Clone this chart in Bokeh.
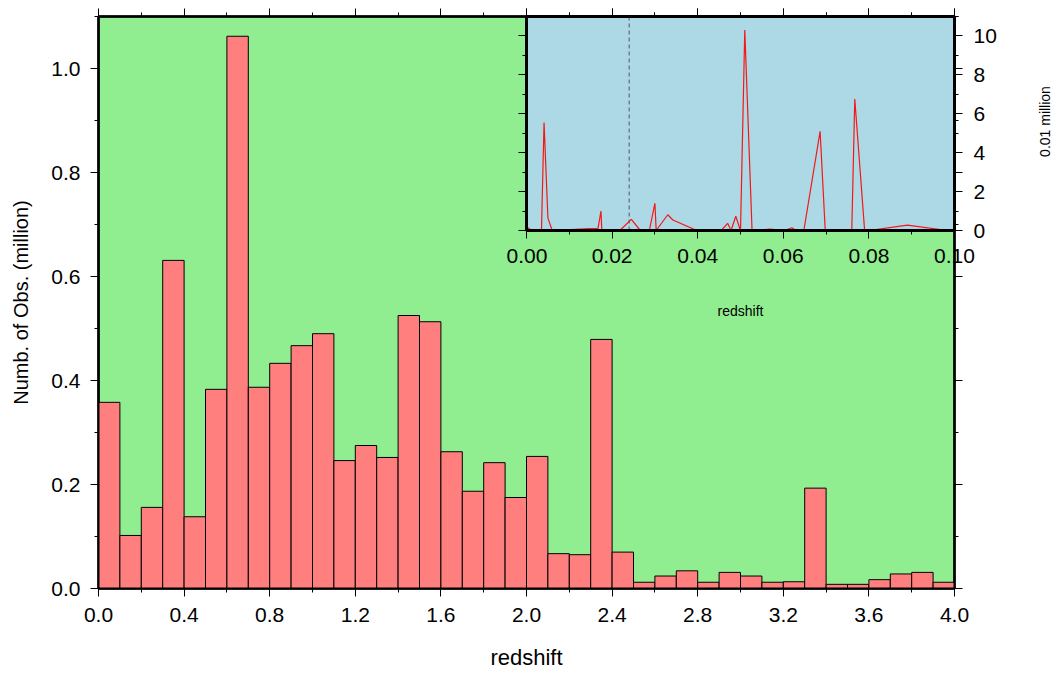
import math
from bokeh.plotting import figure
from bokeh.models import (LinearAxis, SingleIntervalTicker, PrintfTickFormatter,
                          Range1d, Span, ColumnDataSource, CustomLabelingPolicy)
from bokeh.embed import file_html
from bokeh.resources import INLINE

# ---------------- data ----------------
# main histogram: redshift bins (left edges) and counts in millions
bin_left = [0.0, 0.1, 0.2, 0.3, 0.4, 0.5, 0.6, 0.7, 0.8, 0.9,
            1.0, 1.1, 1.2, 1.3, 1.4, 1.5, 1.6, 1.7, 1.8, 1.9,
            2.0, 2.1, 2.2, 2.3, 2.4, 2.5, 2.6, 2.7, 2.8, 2.9,
            3.0, 3.1, 3.2, 3.3, 3.4, 3.5, 3.6, 3.7, 3.8, 3.9]
bin_width = 0.1
counts_million = [0.358, 0.102, 0.156, 0.631, 0.138, 0.383, 1.062, 0.387, 0.433, 0.467,
                  0.490, 0.246, 0.275, 0.252, 0.525, 0.513, 0.263, 0.187, 0.242, 0.175,
                  0.254, 0.067, 0.065, 0.479, 0.070, 0.012, 0.024, 0.034, 0.012, 0.031,
                  0.024, 0.012, 0.013, 0.193, 0.008, 0.008, 0.017, 0.028, 0.031, 0.012]

# inset: low-redshift counts in units of 0.01 million
inset_z = [0.0, 0.0012, 0.0035, 0.0041, 0.0050, 0.0060, 0.0147, 0.0167, 0.0174, 0.0176,
           0.0218, 0.0245, 0.0266, 0.0287, 0.0300, 0.0303, 0.0330, 0.0342, 0.0398, 0.0455,
           0.0470, 0.0478, 0.0489, 0.0500, 0.0510, 0.0527, 0.0568, 0.0603, 0.0620, 0.0630,
           0.0648, 0.0686, 0.0698, 0.0760, 0.0767, 0.0790, 0.0800, 0.0890, 0.0984, 0.1000]
inset_n = [0.2, 0.0, 0.0, 5.55, 0.65, 0.0, 0.1, 0.1, 1.0, 0.0,
           0.0, 0.57, 0.0, 0.0, 1.4, 0.0, 0.81, 0.54, 0.0, 0.0,
           0.37, 0.0, 0.73, 0.0, 10.3, 0.0, 0.07, 0.0, 0.14, 0.0,
           0.0, 5.1, 0.0, 0.0, 6.76, 0.0, 0.0, 0.28, 0.0, 0.0]
inset_marker_z = 0.024

FONT = "Liberation Sans"

NO_LABELS = CustomLabelingPolicy(code="""
const ks = Array.from(indices);
for (const k of ks) { indices.unset(k); }
return indices;
""")


def style_axis(ax, ticker, fmt=None, labels=True, fs="21px", lw=2):
    ax.ticker = ticker
    if fmt is not None:
        ax.formatter = fmt
    ax.axis_line_color = "black"
    ax.axis_line_width = lw
    ax.major_tick_line_color = "black"
    ax.minor_tick_line_color = "black"
    ax.major_tick_line_width = 1
    ax.minor_tick_line_width = 1
    ax.major_tick_in = 0
    ax.major_tick_out = 8
    ax.minor_tick_in = 0
    ax.minor_tick_out = 4
    ax.major_label_text_font = FONT
    ax.major_label_text_color = "black"
    if labels:
        ax.major_label_text_font_size = fs
    else:
        ax.major_label_text_font_size = "0px"
        ax.major_label_standoff = 0
        ax.major_label_policy = NO_LABELS
    ax.axis_label_text_font = FONT
    ax.axis_label_text_font_style = "normal"
    ax.axis_label_text_color = "black"


# ---------------- main figure ----------------
p = figure(width=1050, height=675, x_range=Range1d(0, 4.0), y_range=Range1d(0, 1.1),
           output_backend="svg", toolbar_location=None,
           min_border_left=98, min_border_right=96, min_border_top=16, min_border_bottom=87,
           background_fill_color="#90EE90", border_fill_color="white",
           outline_line_color="black", outline_line_width=2.5,
           styles={"position": "absolute", "left": "0px", "top": "0px"})
p.grid.visible = False

src = ColumnDataSource(dict(left=bin_left,
                            right=[b + bin_width for b in bin_left],
                            top=counts_million))
p.quad(left="left", right="right", bottom=0, top="top", source=src,
       fill_color="#FF7F7F", line_color="black", line_width=1)

xt = SingleIntervalTicker(interval=0.4, num_minor_ticks=2)
yt = SingleIntervalTicker(interval=0.2, num_minor_ticks=2)
style_axis(p.xaxis[0], xt, PrintfTickFormatter(format="%.1f"))
p.xaxis[0].axis_label = "redshift"
p.xaxis[0].axis_label_text_font_size = "22px"
p.xaxis[0].major_label_standoff = 11
p.xaxis[0].axis_label_standoff = 20

style_axis(p.yaxis[0], yt, PrintfTickFormatter(format="%.1f"))
p.yaxis[0].axis_label = "Numb. of Obs. (million)"
p.yaxis[0].axis_label_text_font_size = "20px"
p.yaxis[0].major_label_standoff = 10
p.yaxis[0].axis_label_standoff = 16

top_ax = LinearAxis()
style_axis(top_ax, xt, labels=False)
p.add_layout(top_ax, "above")
right_ax = LinearAxis()
style_axis(right_ax, yt, labels=False)
p.add_layout(right_ax, "right")

# ---------------- inset figure ----------------
q = figure(width=546, height=330, x_range=Range1d(0, 0.1), y_range=Range1d(0, 11),
           y_axis_location="right",
           output_backend="svg", toolbar_location=None,
           min_border_left=20, min_border_right=98, min_border_top=16, min_border_bottom=100,
           background_fill_color="#ADD8E6", border_fill_color=None,
           outline_line_color="black", outline_line_width=3,
           styles={"position": "absolute", "left": "506px", "top": "0px"})
q.grid.visible = False

q.add_layout(Span(location=inset_marker_z, dimension="height", line_color="#708090",
                  line_dash="4 3", line_width=1.5, level="underlay"))
q.line(inset_z, inset_n, line_color="red", line_width=1.2, line_alpha=0.9)

ixt = SingleIntervalTicker(interval=0.02, num_minor_ticks=2)
iyt = SingleIntervalTicker(interval=2, num_minor_ticks=2)
style_axis(q.xaxis[0], ixt, PrintfTickFormatter(format="%.2f"), lw=3)
q.xaxis[0].axis_label = "redshift"
q.xaxis[0].axis_label_text_font_size = "14px"
q.xaxis[0].major_label_standoff = 10
q.xaxis[0].axis_label_standoff = 37

style_axis(q.yaxis[0], iyt, PrintfTickFormatter(format="%d"), lw=3)
q.yaxis[0].major_label_standoff = 11

il = LinearAxis()
style_axis(il, iyt, labels=False, lw=3)
q.add_layout(il, "left")
ia = LinearAxis()
style_axis(ia, ixt, labels=False, lw=3)
q.add_layout(ia, "above")

# ---------------- unit label of the inset's value axis (reads bottom-to-top) ----------------
r = figure(width=26, height=214, x_range=Range1d(0, 1), y_range=Range1d(0, 11),
           x_axis_location=None, y_axis_location="left",
           output_backend="svg", toolbar_location=None,
           min_border_left=24, min_border_right=0, min_border_top=0, min_border_bottom=0,
           background_fill_color=None, border_fill_color=None, outline_line_color=None,
           styles={"position": "absolute", "left": "1028px", "top": "14px"})
r.grid.visible = False
ra = r.yaxis[0]
style_axis(ra, iyt, labels=False)
ra.axis_line_color = None
ra.major_tick_line_color = None
ra.minor_tick_line_color = None
ra.major_tick_out = 0
ra.minor_tick_out = 0
ra.axis_label = "0.01 million"
ra.axis_label_text_font_size = "14px"
ra.axis_label_standoff = 0

open("out.html", "w").write(file_html([p, q, r], INLINE))
